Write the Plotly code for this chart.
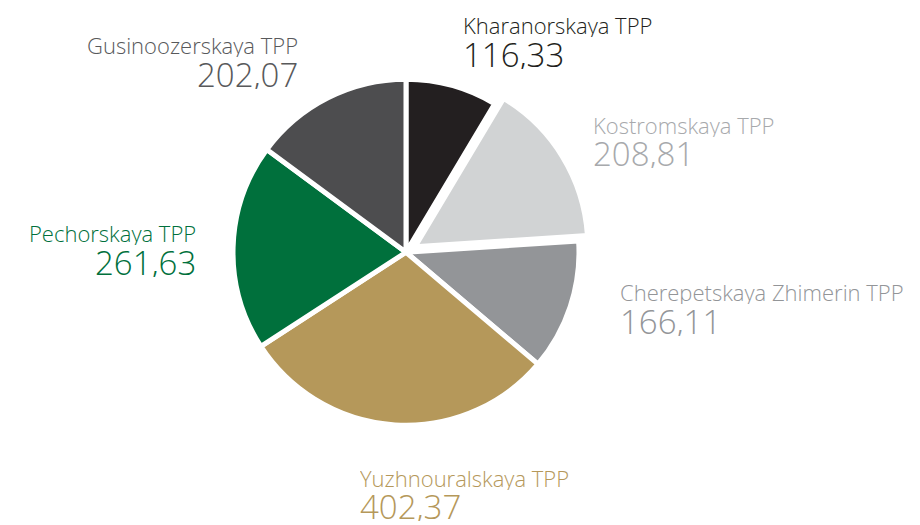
import plotly.graph_objects as go

names = ["Kharanorskaya TPP", "Kostromskaya TPP", "Cherepetskaya Zhimerin TPP",
         "Yuzhnouralskaya TPP", "Pechorskaya TPP", "Gusinoozerskaya TPP"]
values = [116.33, 208.81, 166.11, 402.37, 261.63, 202.07]
slice_colors = ["#231f20", "#d1d3d4", "#939598", "#b5985a", "#00703c", "#4d4d4f"]
text_colors = ["#231f20", "#a7a9ac", "#939598", "#b5985a", "#00703c", "#58595b"]
pulls = [0, 0.06, 0, 0, 0, 0]

W, H = 920, 525
FONT = "Open Sans"

fig = go.Figure(go.Pie(
    labels=names, values=values, sort=False, direction="clockwise", rotation=0,
    marker=dict(colors=slice_colors, line=dict(color="white", width=5)),
    pull=pulls, textinfo="none", hoverinfo="label+value", showlegend=False,
    domain=dict(x=[0.242, 0.6406], y=[0.170, 0.869]),
))

# label placement: (x px, name y px, value y px, anchor)
label_pos = [
    (462, 25, 54, "left"),
    (592, 125, 153, "left"),
    (619, 292, 321, "left"),
    (359, 478, 506, "left"),
    (197, 233, 262, "right"),
    (299, 45, 74, "right"),
]

for name, val, col, (x, yn, yv, anc) in zip(names, values, text_colors, label_pos):
    fig.add_annotation(x=x / W, y=1 - yn / H, xref="paper", yref="paper",
                       text=name, showarrow=False, xanchor=anc, yanchor="middle",
                       borderpad=0, height=24,
                       font=dict(family=FONT, size=22, color=col, weight=300))
    fig.add_annotation(x=x / W, y=1 - yv / H, xref="paper", yref="paper",
                       text=f"{val:.2f}".replace(".", ","), showarrow=False,
                       xanchor=anc, yanchor="middle", borderpad=0, height=30,
                       font=dict(family=FONT, size=33, color=col, weight=300))

fig.update_layout(width=W, height=H, margin=dict(l=0, r=0, t=0, b=0),
                  paper_bgcolor="white", plot_bgcolor="white")

fig.write_html("out.html", config={"displayModeBar": False},
               post_script="document.body.style.margin='0';document.body.style.overflow='hidden';")
